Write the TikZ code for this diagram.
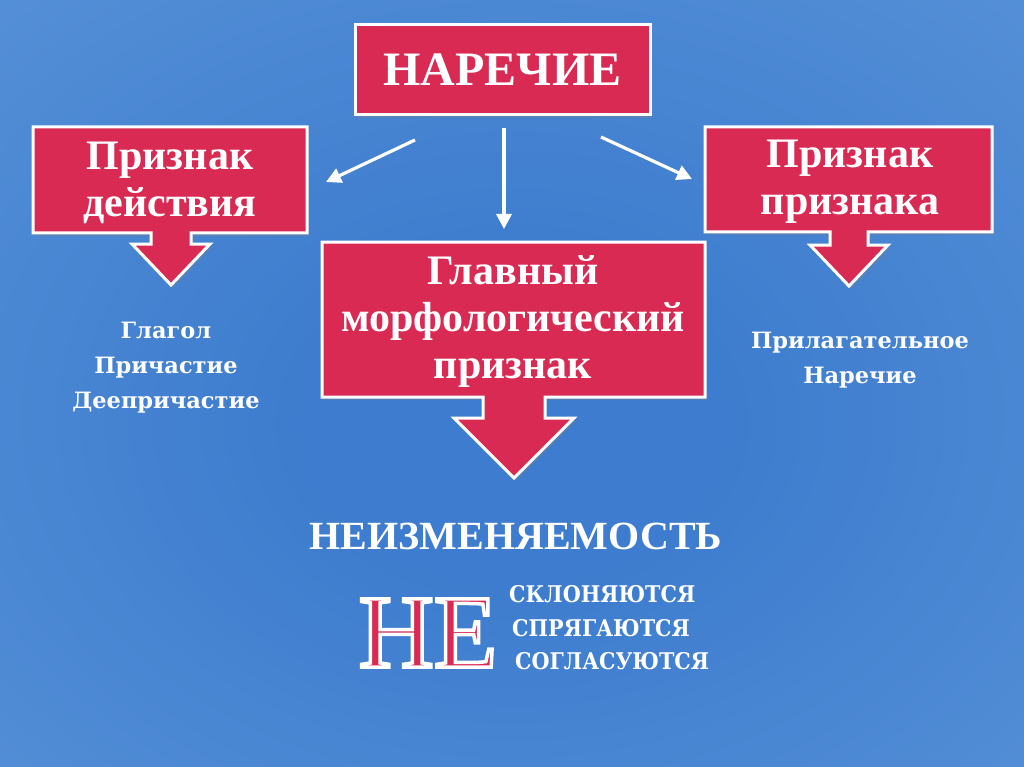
\documentclass[tikz,border=0pt]{standalone}
\usepackage{fontspec}
\setmainfont{Liberation Serif}
\newfontfamily\heavy{DejaVu Serif}
\newfontfamily\heavycond{DejaVu Serif Condensed}
\usetikzlibrary{arrows.meta,shadows}
\definecolor{bglight}{HTML}{6C9DDB}
\definecolor{bgmid}{HTML}{5590D7}
\definecolor{bgdark}{HTML}{3D7CCE}
\definecolor{crimson}{HTML}{D82A53}
\pgfdeclareradialshading{bgshade}{\pgfpoint{0bp}{-3bp}}{color(0bp)=(bgdark); color(10bp)=(bgdark); color(38bp)=(bgmid); color(62bp)=(bglight); color(80bp)=(bglight)}
\tikzset{
  callout/.style={fill=crimson, draw=white, line width=3pt, line join=miter,
    drop shadow={shadow xshift=2pt, shadow yshift=-3pt, opacity=0.35}},
  boxtext/.style={text=white, font=\fontsize{42}{47}\selectfont\bfseries, align=center},
  label/.style={text=white, font=\heavy\fontsize{22.5}{35}\selectfont\bfseries, align=center},
  formtext/.style={text=white, font=\heavycond\fontsize{23}{28}\selectfont\bfseries, anchor=base west, inner sep=0pt},
  conn/.style={white, line width=3.2pt, -{Triangle[length=15pt,width=15pt]}}
}
\begin{document}
\begin{tikzpicture}[x=1pt,y=-1pt]
\useasboundingbox (0,0) rectangle (1024,767);
\shade[shading=bgshade] (0,0) rectangle (1024,767);
% top box
\node[callout, minimum width=295pt, minimum height=90pt, inner sep=0pt,
  text=white, font=\fontsize{48}{52}\selectfont\bfseries] (top) at (502.5,70) {НАРЕЧИЕ};
% left callout
\path[callout] (33,127) -- (307,127) -- (307,233) -- (191,233) -- (191,244) -- (210,244)
  -- (171,285) -- (132,244) -- (151,244) -- (151,233) -- (33,233) -- cycle;
\node[boxtext] (left) at (170,183) {Признак\\действия};
% right callout
\path[callout] (705,127) -- (992,127) -- (992,232) -- (868,232) -- (868,245) -- (888,245)
  -- (849,286) -- (810,245) -- (830,245) -- (830,232) -- (705,232) -- cycle;
\node[boxtext] (right) at (850,182) {Признак\\признака};
% centre callout
\path[callout] (322,242) -- (705,242) -- (705,397) -- (545,397) -- (545,418) -- (574,418)
  -- (514,478) -- (454,418) -- (483,418) -- (483,397) -- (322,397) -- cycle;
\node[boxtext] (centre) at (513,322) {Главный\\морфологический\\признак};
% connectors
\coordinate (a1s) at (415,140); \coordinate (a1e) at (326,182);
\coordinate (a2s) at (504,128); \coordinate (a2e) at (504,229);
\coordinate (a3s) at (601,137); \coordinate (a3e) at (692,179);
\draw[conn] (a1s) -- (a1e);
\draw[conn] (a2s) -- (a2e);
\draw[conn] (a3s) -- (a3e);
% side labels
\node[label] (verbs) at (166,368) {Глагол\\Причастие\\Деепричастие};
\node[label] (adjs) at (860,360) {Прилагательное\\Наречие};
% bottom
\node[text=white, font=\fontsize{40}{44}\selectfont\bfseries, anchor=base] (neizm) at (516,549) {НЕИЗМЕНЯЕМОСТЬ};
\node[text=crimson, font=\fontsize{104}{110}\selectfont, anchor=base, inner sep=0pt] (ne) at (428,667)
  {\special{pdf:literal direct 2 Tr 3.5 w 1 1 1 RG}НЕ\special{pdf:literal direct 0 Tr}};
\node[formtext] (f1) at (509,602) {СКЛОНЯЮТСЯ};
\node[formtext] (f2) at (512,636) {СПРЯГАЮТСЯ};
\node[formtext] (f3) at (515,669) {СОГЛАСУЮТСЯ};
\end{tikzpicture}
\end{document}
